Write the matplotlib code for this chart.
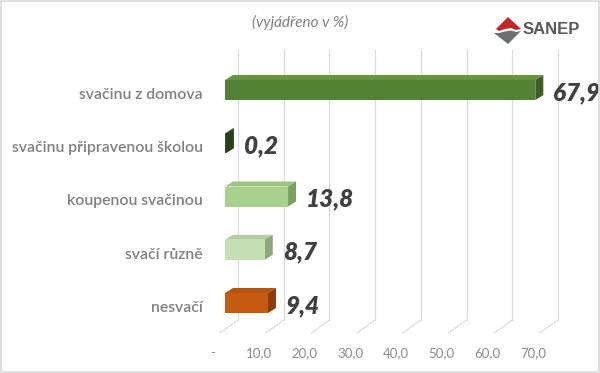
import matplotlib
matplotlib.use("Agg")
import matplotlib.pyplot as plt
from matplotlib.patches import Polygon, Rectangle

plt.rcParams["font.family"] = ["Lato", "DejaVu Sans"]

# data
categories = ["svačinu z domova", "svačinu připravenou školou",
              "koupenou svačinou", "svačí různě", "nesvačí"]
values = [67.9, 0.2, 13.8, 8.7, 9.4]
value_labels = ["67,9", "0,2", "13,8", "8,7", "9,4"]
ticks = [0, 10, 20, 30, 40, 50, 60, 70]
tick_labels = ["-", "10,0", "20,0", "30,0", "40,0", "50,0", "60,0", "70,0"]

front_cols = ["#548235", "#375623", "#a9d18e", "#c5e0b4", "#c55a11"]
top_cols = ["#65963f", "#44692b", "#9cc582", "#b3cfa2", "#b8520f"]
side_cols = ["#3b5f25", "#27401a", "#7a9e63", "#8ca67e", "#8a3d0b"]

W, H = 600, 373
PXU = 4.57      # pixels per value unit
X0 = 225        # pixel x of value 0 (bar front)
Y0 = 90         # pixel y of first bar centre
STEP = 53.25    # pixels between bars


def ux(px):
    return px / PXU


def uy(py):
    return py / STEP


fig = plt.figure(figsize=(W / 100, H / 100), dpi=100)
ax = fig.add_axes([0, 0, 1, 1])
ax.set_xlim(-X0 / PXU, (W - X0) / PXU)
ax.set_ylim((H - Y0) / STEP, -Y0 / STEP)
ax.axis("off")

# back wall gridlines and floor lines
floor_front_y = uy(333 - Y0)
floor_back_y = uy(320 - Y0)
grid_top = uy(50 - Y0)
for t in ticks:
    bx = t + ux(13)
    ax.plot([bx, bx], [grid_top, floor_back_y], color="#d9d9d9", lw=0.8, zorder=1)
    ax.plot([t - ux(5), bx], [floor_front_y, floor_back_y], color="#d9d9d9", lw=0.8, zorder=1)

# 3D-looking bars
bh = uy(20)
ddx, ddy = ux(8), uy(5)
for i, v in enumerate(values):
    top = i - bh / 2
    bot = i + bh / 2
    ax.add_patch(Polygon([(0, top), (ddx, top - ddy), (v + ddx, top - ddy), (v, top)],
                         closed=True, facecolor=top_cols[i], edgecolor="none", zorder=3))
    ax.add_patch(Polygon([(v, top), (v + ddx, top - ddy), (v + ddx, bot - ddy), (v, bot)],
                         closed=True, facecolor=side_cols[i], edgecolor="none", zorder=3))
    ax.barh(i, v, height=bh, color=front_cols[i], edgecolor="none", zorder=4)
    ax.text(v + ux(18), i + uy(2.5), value_labels[i], ha="left", va="center",
            fontsize=17.5, fontweight="heavy", fontstyle="italic", color="#404040", zorder=5)
    ax.text(-ux(22), i + uy(5), categories[i], ha="right", va="center",
            fontsize=11.3, fontweight="semibold", color="#808080")

# x tick labels
for t, lab in zip(ticks, tick_labels):
    ax.text(t - ux(12), uy(353 - Y0), lab, ha="center", va="center",
            fontsize=9.5, color="#8c8c8c")

# title
fig.text(300 / W, 1 - 22 / H, "(vyjádřeno v %)", ha="center", va="center",
         fontsize=11, fontstyle="italic", color="#808080")


# SANEP logo (pixel coords -> figure coords)
def fp(pts):
    return [(x / W, 1 - y / H) for x, y in pts]


fig.patches.append(Polygon(fp([(496, 29), (508, 17), (521, 29), (516, 30), (511, 28),
                               (505, 29), (499, 31)]),
                           closed=True, transform=fig.transFigure,
                           facecolor="#c0272d", edgecolor="none"))
fig.patches.append(Polygon(fp([(494, 33), (499, 33), (505, 31.5), (511, 30.5), (516, 32),
                               (521, 31), (508, 44)]),
                           closed=True, transform=fig.transFigure,
                           facecolor="#6d6e71", edgecolor="none"))
fig.text(523 / W, 1 - 30 / H, "SANEP", ha="left", va="center", fontsize=12,
         fontweight="bold", color="#58595b", family=["Liberation Sans", "DejaVu Sans"])

# outer border
fig.patches.append(Rectangle((0.002, 0.003), 0.996, 0.994, transform=fig.transFigure,
                             fill=False, edgecolor="#d9d9d9", lw=1.2))

fig.savefig("out.png", dpi=100)
